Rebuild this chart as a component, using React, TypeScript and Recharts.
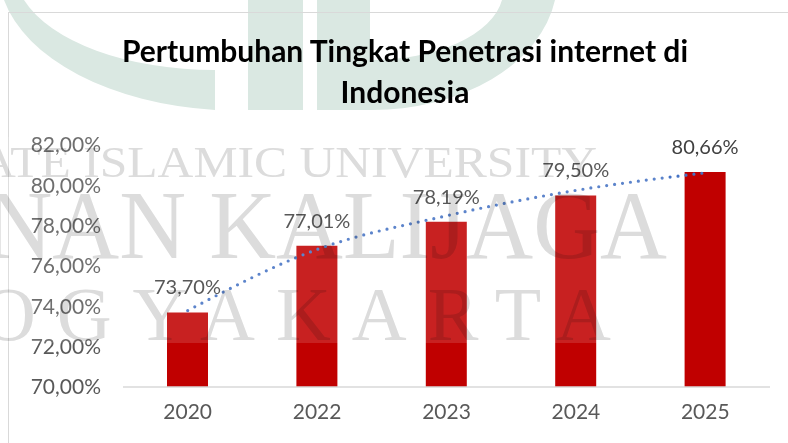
import React from 'react';
import { ComposedChart, Bar, Line, XAxis, YAxis, LabelList } from 'recharts';

const years = ['2020', '2022', '2023', '2024', '2025'];
const penetration = [73.7, 77.01, 78.19, 79.5, 80.66];
const trendValues = [73.79, 76.82, 78.49, 79.75, 80.62];
const yTicks = [70, 72, 74, 76, 78, 80, 82];
const titleLines = ['Pertumbuhan Tingkat Penetrasi internet di', 'Indonesia'];
const watermarkLines = ['STATE ISLAMIC UNIVERSITY', 'SUNAN KALIJAGA', 'YOGYAKARTA'];

const data = years.map((y, i) => ({ year: y, value: penetration[i], trend: trendValues[i] }));

const fmt = (v: number) => v.toFixed(2).replace('.', ',') + '%';

const FONT = 'Lato, "Open Sans", sans-serif';
const SERIF = '"Liberation Serif", "DejaVu Serif", serif';

function Logo() {
  // faint university logo behind the title
  const teal = '#dae8e2';
  return (
    <svg width={788} height={443} style={{ position: 'absolute', left: 0, top: 0 }}>
      <path
        fillRule="evenodd"
        fill={teal}
        d="M 4 0 A 241 140 0 0 0 215 110 L 215 70 A 200 100 0 0 1 24 0 Z"
      />
      <rect x={248} y={0} width={55} height={110} fill={teal} />
      <path fill={teal} d="M 317 0 L 317 110 L 370 110 A 185 130 0 0 0 555 0 L 502 0 A 132 70 0 0 1 370 60 L 370 0 Z" />
    </svg>
  );
}

function Watermark() {
  return (
    <>
      <svg width={788} height={443} style={{ position: 'absolute', left: 0, top: 0, pointerEvents: 'none' }}>
        <rect x={0} y={137} width={665} height={206} fill="#ffffff" fillOpacity={0.13} />
      </svg>
      <svg width={788} height={443} style={{ position: 'absolute', left: 0, top: 0, pointerEvents: 'none', mixBlendMode: 'multiply' }}>
        <g fill="#dcdcdc" fontFamily={SERIF}>
          <text x={-74} y={177} fontSize={44} textLength={671} lengthAdjust="spacingAndGlyphs">{watermarkLines[0]}</text>
          <text x={-133} y={258} fontSize={98} textLength={800} lengthAdjust="spacingAndGlyphs">{watermarkLines[1]}</text>
          <text x={-95} y={340} fontSize={76} textLength={706} lengthAdjust="spacing">{watermarkLines[2]}</text>
        </g>
      </svg>
    </>
  );
}

export default function App() {
  return (
    <div style={{ position: 'fixed', left: 0, top: 0, width: 788, height: 443, background: '#ffffff', overflow: 'hidden', fontFamily: FONT }}>
      <Logo />
      <div style={{ position: 'absolute', left: 8, top: 12, width: 800, height: 460, border: '1.5px solid #d9d9d9', boxSizing: 'border-box' }} />
      <div style={{ position: 'absolute', left: 0, top: 30, width: 810, textAlign: 'center', fontSize: 30, fontWeight: 700, color: '#000', lineHeight: '41px' }}>
        {titleLines.map((t) => (
          <div key={t}>{t}</div>
        ))}
      </div>
      <div style={{ position: 'absolute', left: 0, top: 0 }}>
        <ComposedChart width={788} height={443} data={data} margin={{ top: 145, right: 18, bottom: 26, left: 8 }}>
          <XAxis
            dataKey="year"
            axisLine={{ stroke: '#d9d9d9', strokeWidth: 1.5 }}
            tickLine={false}
            tickSize={0}
            tickMargin={17}
            tick={{ fill: '#595959', fontSize: 21, fontFamily: FONT }}
          />
          <YAxis
            domain={[70, 82]}
            ticks={yTicks}
            width={115}
            axisLine={false}
            tickLine={false}
            tickSize={0}
            tickMargin={22}
            tickFormatter={fmt}
            tick={{ fill: '#595959', fontSize: 21, fontFamily: FONT }}
            interval={0}
          />
          <Bar dataKey="value" fill="#C00000" barSize={41} isAnimationActive={false}>
            <LabelList dataKey="value" position="top" offset={18} formatter={(v: any) => fmt(Number(v))} style={{ fill: '#404040', fontSize: 20, fontFamily: FONT }} />
          </Bar>
          <Line
            dataKey="trend"
            type="monotone"
            stroke="#4472C4"
            strokeWidth={3.2}
            strokeLinecap="round"
            strokeDasharray="0 8"
            dot={false}
            activeDot={false}
            isAnimationActive={false}
          />
        </ComposedChart>
      </div>
      <Watermark />
    </div>
  );
}
